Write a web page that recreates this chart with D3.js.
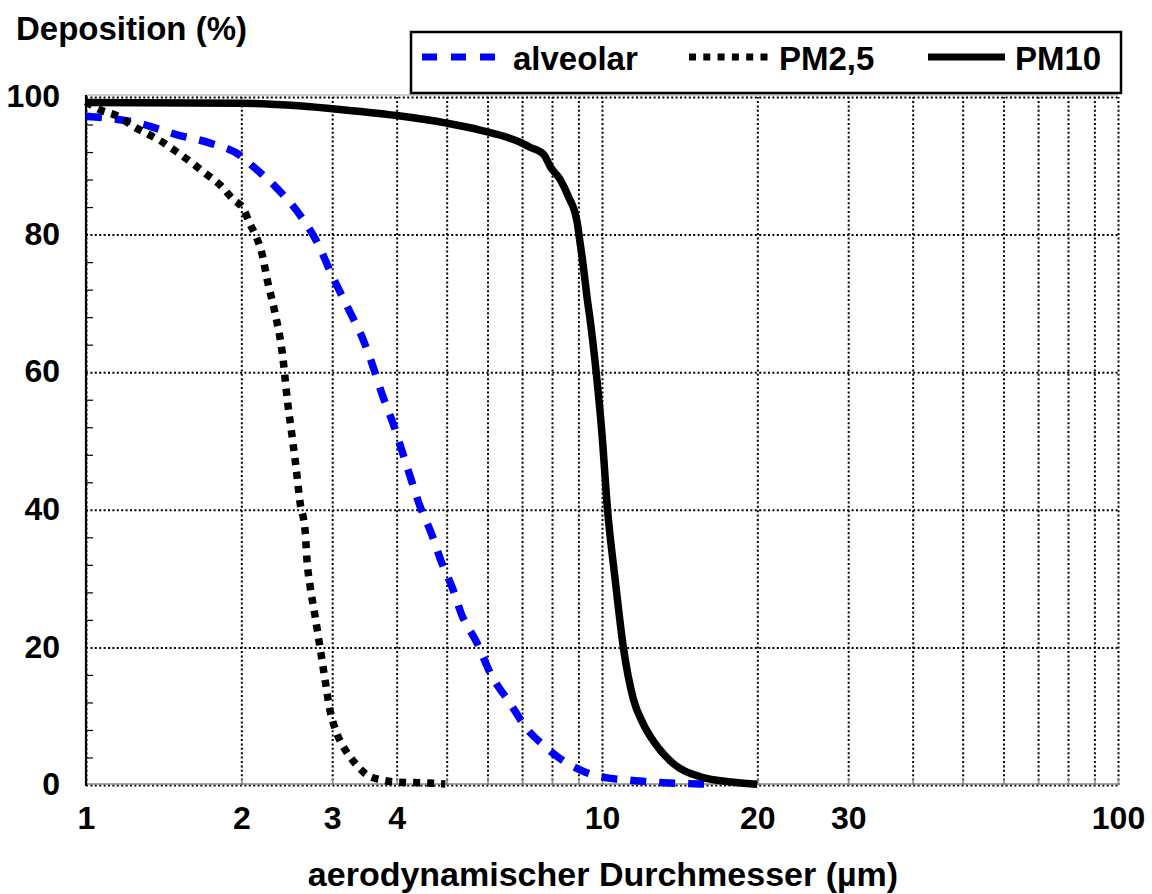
<!DOCTYPE html>
<html>
<head>
<meta charset="utf-8">
<script src="https://cdn.jsdelivr.net/npm/d3@7"></script>
<style>
  html, body { margin: 0; padding: 0; background: #fff; }
  svg { display: block; }
  text { font-family: "Liberation Sans", Arial, sans-serif; font-weight: bold; fill: #000; }
</style>
</head>
<body>
<svg id="chart" width="1152" height="894"></svg>
<script>
// ---- data ----
const alveolarX = [1, 1.23, 1.52, 1.74, 2, 2.1, 2.34, 2.6, 2.8, 3, 3.25, 3.45, 3.6, 3.76, 3.93, 4.2, 4.44, 4.68, 4.89, 5.12, 5.35, 5.72, 6.08, 6.63, 7.18, 7.7, 8.2, 9.26, 10.3, 11.3, 12.4, 13.5, 14.8, 16.2];
const alveolarY = [97.2, 96.4, 94.4, 93.3, 91.4, 90, 86.8, 82.8, 79, 74, 68.7, 64.6, 60.8, 56.5, 52.7, 46, 40.5, 36.4, 32.3, 28.8, 24.7, 20.7, 16.2, 11.9, 8, 5.8, 4.1, 1.9, 1.0, 0.7, 0.45, 0.3, 0.2, 0.1];

const pm25X = [1, 1.06, 1.16, 1.23, 1.32, 1.41, 1.5, 1.6, 1.71, 1.82, 1.93, 2.02, 2.08, 2.14, 2.19, 2.25, 2.32, 2.4, 2.46, 2.5, 2.55, 2.6, 2.66, 2.68, 2.72, 2.78, 2.84, 2.9, 2.97, 3.06, 3.18, 3.32, 3.5, 3.76, 4.06, 4.58, 4.97];
const pm25Y = [99.3, 98.2, 97.1, 95.8, 94.6, 93.4, 92, 90.5, 88.8, 87.2, 85.1, 83.7, 81.5, 79.6, 77.4, 73.1, 68.9, 62.9, 55.5, 51.5, 46.5, 41, 36.7, 32.8, 28.8, 24.5, 20.1, 15.7, 10.9, 7.6, 5.1, 3.2, 1.5, 0.7, 0.4, 0.3, 0.15];

const pm10X = [1, 2, 2.5, 3, 4, 5, 5.8, 7, 7.25, 7.7, 7.95, 8.3, 8.6, 8.95, 9.05, 9.2, 9.35, 9.5, 9.7, 10, 10.25, 10.6, 11, 11.5, 12, 12.6, 13.7, 15.5, 18, 20];
const pm10Y = [99.2, 99.1, 98.8, 98.3, 97.3, 96.2, 95.2, 93.3, 92.7, 91.7, 89.8, 88, 85.6, 81.8, 79.3, 75.4, 71, 67.2, 61.4, 51, 40, 30, 20, 12.5, 9, 6.3, 3.2, 1.2, 0.4, 0.1];

const seriesNames = ["alveolar", "PM2,5", "PM10"];
const xTickLabels = [1, 2, 3, 4, 10, 20, 30, 100];
const xGridValues = [1, 2, 3, 4, 5, 6, 7, 8, 9, 10, 20, 30, 40, 50, 60, 70, 80, 90, 100];
const yTickLabels = [0, 20, 40, 60, 80, 100];
const yMinorValues = [4, 8, 12, 16, 24, 28, 32, 36, 44, 48, 52, 56, 64, 68, 72, 76, 84, 88, 92, 96];
const yTitle = "Deposition (%)";
const xTitle = "aerodynamischer Durchmesser (µm)";

// ---- layout ----
const L = 86, R = 1118, T = 97, B = 785;
const svg = d3.select("#chart");
const x = d3.scaleLog().domain([1, 100]).range([L, R]);
const y = d3.scaleLinear().domain([0, 100]).range([B, T]);

// grid (dotted)
const gx = svg.append("g").attr("transform", `translate(0,${B})`)
  .call(d3.axisBottom(x).tickValues(xGridValues).tickSize(-(B - T)).tickFormat(""));
gx.select(".domain").remove();
gx.selectAll("line").attr("stroke", "#000").attr("stroke-width", 2).attr("stroke-dasharray", "2,2.4");

const gy = svg.append("g").attr("transform", `translate(${L},0)`)
  .call(d3.axisLeft(y).tickValues(yTickLabels).tickSize(-(R - L)).tickFormat(""));
gy.select(".domain").remove();
gy.selectAll("line").attr("stroke", "#000").attr("stroke-width", 2).attr("stroke-dasharray", "2,2.4");

// frame lines
svg.append("line").attr("x1", L).attr("x2", R).attr("y1", T - 2).attr("y2", T - 2)
  .attr("stroke", "#999").attr("stroke-width", 1.2);
svg.append("line").attr("x1", L).attr("x2", R).attr("y1", B - 1).attr("y2", B - 1)
  .attr("stroke", "#888").attr("stroke-width", 1.5);

// minor ticks
const mx = svg.append("g").attr("transform", `translate(0,${B})`)
  .call(d3.axisBottom(x).tickValues(xGridValues).tickSize(-6).tickFormat(""));
mx.select(".domain").remove();
mx.selectAll("line").attr("stroke", "#888").attr("stroke-width", 1.5);

const my = svg.append("g").attr("transform", `translate(${L},0)`)
  .call(d3.axisLeft(y).tickValues(yMinorValues).tickSize(-7).tickFormat(""));
my.select(".domain").remove();
my.selectAll("line").attr("stroke", "#000").attr("stroke-width", 1.2);

// left axis line
svg.append("line").attr("x1", L).attr("x2", L).attr("y1", T - 2).attr("y2", B + 1)
  .attr("stroke", "#000").attr("stroke-width", 2.2);

// tick labels
const lx = svg.append("g").attr("transform", `translate(0,${B})`)
  .call(d3.axisBottom(x).tickValues(xTickLabels).tickSize(0).tickPadding(21).tickFormat(d3.format("d")));
lx.select(".domain").remove();
lx.selectAll("text").attr("font-family", "'Liberation Sans', Arial, sans-serif")
  .attr("font-weight", "bold").attr("font-size", 32).attr("fill", "#000");

const ly = svg.append("g").attr("transform", `translate(${L},0)`)
  .call(d3.axisLeft(y).tickValues(yTickLabels).tickSize(0).tickPadding(26).tickFormat(d3.format("d")));
ly.select(".domain").remove();
ly.selectAll("text").attr("font-family", "'Liberation Sans', Arial, sans-serif")
  .attr("font-weight", "bold").attr("font-size", 32).attr("fill", "#000").attr("dy", "0.3em");

// titles
svg.append("text").attr("x", 16).attr("y", 40).attr("font-size", 33).text(yTitle);
svg.append("text").attr("x", (L + R) / 2 + 1).attr("y", 886).attr("text-anchor", "middle")
  .attr("font-size", 34).text(xTitle);

// curves
const line = d3.line().x(d => x(d[0])).y(d => y(d[1])).curve(d3.curveMonotoneX);
const styles = [
  { xs: alveolarX, ys: alveolarY, color: "#0000ff", dash: "16,13" },
  { xs: pm25X, ys: pm25Y, color: "#000", dash: "7,7" },
  { xs: pm10X, ys: pm10Y, color: "#000", dash: null }
];
styles.forEach(s => {
  const pts = s.xs.map((v, i) => [v, s.ys[i]]);
  const p = svg.append("path").datum(pts).attr("d", line)
    .attr("fill", "none").attr("stroke", s.color).attr("stroke-width", 7.5)
    .attr("stroke-linecap", "butt").attr("stroke-linejoin", "round");
  if (s.dash) p.attr("stroke-dasharray", s.dash);
});

// legend
svg.append("rect").attr("x", 411).attr("y", 32).attr("width", 710).attr("height", 61)
  .attr("fill", "#fff").attr("stroke", "#000").attr("stroke-width", 2.5);
const legendItems = [
  { x1: 422, x2: 495, tx: 513, color: "#0000ff", dash: "15,14" },
  { x1: 689, x2: 768, tx: 779, color: "#000", dash: "7,7.3" },
  { x1: 928, x2: 1005, tx: 1015, color: "#000", dash: null }
];
legendItems.forEach((it, i) => {
  const l = svg.append("line").attr("x1", it.x1).attr("x2", it.x2).attr("y1", 57).attr("y2", 57)
    .attr("stroke", it.color).attr("stroke-width", 7);
  if (it.dash) l.attr("stroke-dasharray", it.dash);
  svg.append("text").attr("x", it.tx).attr("y", 70).attr("font-size", 33).text(seriesNames[i]);
});
</script>
</body>
</html>
